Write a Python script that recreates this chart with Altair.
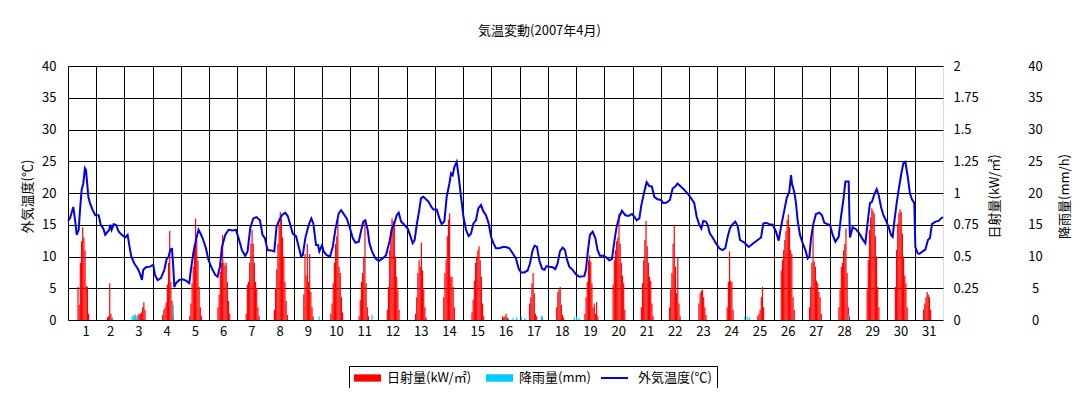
import altair as alt
import pandas as pd

TITLE = "気温変動(2007年4月)"
SERIES = ["日射量(kW/㎡)", "降雨量(mm)", "外気温度(℃)"]
COLORS = ["#FF0000", "#00CCFF", "#0000EE"]
FONT = "Noto Sans CJK JP"

# Air temperature (hour of month, deg C)
temp_hours = [0, 1.7, 4.5, 6.2, 7.4, 9.1, 10.2, 11.6, 13.0, 14.4, 15.3, 16.1, 17.3, 18.7, 21.0, 23.2, 26.1, 27.8, 30.0, 31.7,
              33.7, 35.1, 36.0, 37.1, 38.8, 40.8, 43.1, 45.9, 48.7, 50.7, 52.1, 53.8, 56.4, 59.2, 61.2, 62.9, 64.0, 66.3, 69.7, 72.5,
              73.9, 76.2, 79.0, 81.9, 83.9, 85.6, 87.0, 88.4, 89.5, 90.4, 91.8, 94.6, 97.5, 100.3, 103.1, 104.5, 106.5, 108.8, 111.0, 113.0,
              115.0, 117.3, 119.5, 122.4, 125.2, 127.2, 129.2, 130.9, 133.7, 136.5, 140.0, 142.8, 145.0, 147.9, 150.7, 152.7, 154.9, 157.5, 160.3, 163.2,
              165.4, 167.4, 169.7, 171.7, 175.4, 177.3, 179.6, 181.9, 184.7, 187.0, 188.7, 191.1, 193.9, 196.2, 198.2, 199.6, 201.8, 204.7, 206.9, 208.6,
              210.9, 212.6, 213.7, 216.0, 217.4, 220.0, 222.8, 225.1, 227.3, 230.2, 232.2, 234.1, 237.0, 239.8, 242.1, 244.3, 247.2, 249.4, 251.1, 252.8,
              254.8, 256.3, 258.5, 261.4, 264.2, 267.6, 270.4, 273.3, 275.5, 277.5, 279.5, 281.2, 283.2, 286.0, 288.8, 290.8, 293.1, 294.8, 296.5, 298.2,
              300.2, 302.2, 304.4, 306.7, 309.0, 310.7, 313.5, 315.8, 317.7, 320.0, 322.0, 324.3, 325.7, 327.1, 328.5, 330.5, 332.2, 334.2, 336.2, 338.4,
              340.7, 342.7, 344.7, 346.9, 348.9, 351.2, 353.2, 355.4, 357.7, 359.7, 361.7, 363.9, 366.8, 369.6, 372.4, 375.3, 378.1, 380.9, 383.2, 385.2,
              388.0, 390.8, 392.8, 395.1, 396.8, 398.8, 400.7, 403.0, 405.0, 407.0, 409.2, 412.1, 414.3, 416.3, 418.3, 420.6, 422.6, 424.0, 426.2, 429.1,
              431.9, 434.7, 439.0, 440.4, 441.8, 443.8, 446.1, 448.4, 450.3, 452.3, 455.2, 457.4, 460.3, 462.5, 464.5, 466.5, 468.8, 471.0, 473.9, 476.7,
              479.5, 481.5, 483.5, 485.8, 487.5, 490.0, 492.0, 494.3, 496.5, 498.5, 501.3, 504.2, 506.2, 509.0, 511.8, 514.1, 516.4, 518.3, 521.2, 524.0,
              526.9, 529.7, 532.5, 534.5, 536.8, 538.5, 540.2, 542.4, 543.9, 545.8, 548.1, 550.9, 553.8, 556.6, 558.9, 560.9, 562.8, 564.6, 567.4, 569.4,
              571.4, 575.1, 578.8, 582.2, 586.4, 589.3, 591.2, 593.5, 596.3, 599.2, 602.0, 604.3, 606.3, 609.1, 611.1, 613.3, 614.8, 615.6, 617.6, 619.0,
              620.4, 622.4, 624.7, 627.0, 628.9, 630.4, 631.8, 633.8, 636.0, 638.9, 641.1, 643.1, 645.9, 647.9, 650.2, 652.5, 655.3, 657.3, 659.3, 661.0,
              663.8, 664.4, 664.9, 667.2, 670.0, 672.9, 675.7, 678.0, 680.0, 681.9, 683.6, 685.6, 687.6, 689.3, 691.3, 693.3, 695.5, 697.8, 699.8, 701.2,
              702.6, 704.6, 706.3, 708.3, 710.3, 712.0, 714.0, 715.9, 717.6, 719.6, 720.5, 722.5, 723.9, 726.7, 729.0, 731.2, 732.9, 734.6, 737.5, 740.3,
              742.3, 744]
temp_values = [15.6, 16.0, 17.8, 15.5, 13.4, 14.2, 17.3, 20.5, 21.5, 23.9, 23.6, 22.0, 19.4, 18.4, 17.3, 16.5, 16.5, 15.0, 14.4, 13.4,
               13.9, 14.2, 15.0, 14.2, 15.1, 15.0, 13.9, 13.4, 13.0, 13.4, 11.8, 10.0, 8.9, 8.1, 7.3, 6.3, 7.9, 8.3, 8.4, 8.7,
               7.1, 6.3, 6.6, 7.9, 9.6, 10.0, 11.1, 11.2, 8.4, 5.2, 5.8, 6.3, 6.4, 6.2, 5.8, 7.9, 10.5, 12.6, 14.2, 13.5,
               12.6, 11.3, 9.4, 8.1, 7.1, 6.8, 8.4, 11.5, 13.4, 14.2, 14.1, 14.2, 12.9, 11.0, 10.1, 10.8, 14.4, 16.0, 16.2, 15.7,
               13.4, 12.9, 11.0, 11.0, 10.8, 14.7, 15.7, 16.5, 16.9, 16.3, 15.2, 13.6, 13.2, 11.5, 10.0, 10.2, 12.9, 15.0, 16.0, 15.2,
               11.8, 11.8, 10.8, 11.8, 10.8, 10.2, 10.0, 11.5, 14.2, 16.8, 17.3, 16.8, 16.0, 14.4, 12.9, 12.2, 12.3, 14.2, 15.5, 15.7,
               14.2, 12.1, 10.8, 9.7, 9.3, 9.7, 10.2, 12.3, 14.4, 15.2, 16.5, 16.9, 15.5, 15.0, 14.4, 13.4, 12.1, 12.6, 15.0, 16.8,
               19.2, 19.4, 19.0, 18.6, 17.8, 17.4, 17.4, 16.0, 15.1, 15.5, 19.4, 21.5, 23.1, 22.8, 24.1, 24.9, 22.6, 19.4, 16.3, 14.2,
               13.2, 13.6, 15.2, 15.7, 17.6, 18.1, 17.1, 16.5, 15.2, 13.1, 12.1, 11.3, 11.3, 11.5, 11.5, 11.3, 10.5, 9.7, 8.1, 7.5,
               7.5, 7.8, 8.9, 11.0, 11.7, 11.5, 9.4, 8.1, 7.9, 8.5, 8.4, 8.3, 8.0, 8.9, 10.8, 11.4, 11.0, 9.7, 8.4, 7.9,
               7.2, 6.8, 6.9, 7.9, 10.5, 13.4, 13.9, 12.9, 11.0, 10.1, 10.1, 9.9, 9.4, 9.6, 12.3, 14.7, 16.3, 17.2, 16.5, 16.4,
               16.7, 16.3, 15.7, 16.0, 18.1, 20.2, 21.7, 21.1, 21.0, 19.4, 19.0, 18.9, 18.4, 18.5, 18.9, 20.7, 21.0, 21.5, 21.0, 20.5,
               19.9, 19.2, 18.4, 16.3, 15.0, 14.4, 15.6, 15.5, 15.0, 13.6, 13.0, 12.1, 11.3, 11.0, 11.3, 13.1, 14.4, 15.0, 15.5, 14.8,
               12.6, 12.2, 11.5, 12.0, 12.6, 13.0, 15.2, 15.3, 15.1, 15.0, 13.9, 12.5, 14.7, 17.3, 19.2, 20.2, 22.8, 21.5, 20.1, 18.4,
               15.7, 13.4, 12.1, 11.0, 9.7, 10.0, 12.9, 15.2, 16.7, 16.9, 16.5, 15.3, 15.1, 15.0, 13.4, 12.3, 13.1, 16.3, 18.9, 21.8,
               21.8, 16.5, 13.0, 14.6, 14.3, 13.6, 12.7, 12.1, 15.5, 18.4, 18.6, 19.8, 20.6, 19.7, 17.8, 16.5, 15.7, 14.6, 13.4, 13.1,
               15.5, 18.4, 20.5, 22.8, 24.7, 24.9, 22.6, 19.9, 19.0, 18.4, 11.5, 10.5, 10.4, 10.8, 11.1, 12.6, 12.9, 15.1, 15.5, 15.6,
               16.0, 16.2]

# Solar radiation (kW/m2), hourly values for hours 6..18 of each day
solar_first_hour = 6
solar_by_day = [
    [0, 0, 0.26, 0.12, 0.45, 0.62, 0.73, 0.65, 0.55, 0.27, 0.26, 0.05, 0],
    [0, 0, 0, 0.02, 0.03, 0.29, 0.05, 0.02, 0, 0, 0, 0, 0],
    [0, 0, 0, 0, 0, 0.04, 0.05, 0.05, 0.06, 0.1, 0.14, 0.08, 0],
    [0, 0, 0.04, 0.08, 0.1, 0.14, 0.28, 0.45, 0.7, 0.3, 0.15, 0.04, 0],
    [0, 0.03, 0.13, 0.29, 0.42, 0.6, 0.8, 0.63, 0.47, 0.26, 0.1, 0.03, 0],
    [0, 0.1, 0.2, 0.38, 0.45, 0.67, 0.45, 0.43, 0.45, 0.3, 0.15, 0.05, 0],
    [0, 0.05, 0.28, 0.3, 0.45, 0.6, 0.71, 0.6, 0.45, 0.3, 0.25, 0.1, 0.03],
    [0, 0.08, 0.25, 0.4, 0.6, 0.75, 0.85, 0.8, 0.65, 0.5, 0.3, 0.15, 0.04],
    [0, 0, 0.2, 0.52, 0.35, 0.6, 0.3, 0.52, 0.22, 0.1, 0.03, 0, 0],
    [0, 0.05, 0.13, 0.29, 0.45, 0.6, 0.66, 0.79, 0.42, 0.37, 0.18, 0.06, 0],
    [0, 0.03, 0.16, 0.3, 0.37, 0.49, 0.79, 0.29, 0.1, 0.03, 0, 0, 0],
    [0, 0.08, 0.26, 0.55, 0.71, 0.8, 0.78, 0.77, 0.5, 0.34, 0.24, 0.08, 0],
    [0, 0.05, 0.18, 0.37, 0.47, 0.42, 0.61, 0.39, 0.24, 0.1, 0.02, 0, 0],
    [0, 0.18, 0.37, 0.47, 0.66, 0.79, 0.84, 0.34, 0.34, 0.26, 0.1, 0, 0],
    [0, 0.06, 0.16, 0.31, 0.45, 0.5, 0.55, 0.58, 0.47, 0.34, 0.13, 0.03, 0],
    [0, 0, 0, 0.03, 0.02, 0.03, 0.05, 0.02, 0, 0, 0, 0, 0],
    [0, 0, 0.13, 0.18, 0.29, 0.37, 0.21, 0.05, 0.03, 0, 0, 0, 0],
    [0, 0.1, 0.22, 0.24, 0.26, 0.12, 0.04, 0.02, 0, 0, 0, 0, 0],
    [0, 0.05, 0.18, 0.3, 0.47, 0.51, 0.46, 0.29, 0.1, 0.13, 0.05, 0.14, 0.03],
    [0, 0.28, 0.47, 0.55, 0.62, 0.65, 0.84, 0.6, 0.45, 0.35, 0.29, 0.08, 0],
    [0, 0.1, 0.29, 0.47, 0.63, 0.78, 0.58, 0.45, 0.34, 0.31, 0.13, 0.03, 0],
    [0, 0.1, 0.24, 0.37, 0.6, 0.75, 0.42, 0.21, 0.49, 0.13, 0.03, 0, 0],
    [0, 0, 0.13, 0.21, 0.23, 0.24, 0.18, 0.1, 0.04, 0, 0, 0, 0],
    [0, 0, 0.1, 0.3, 0.54, 0.31, 0.3, 0.08, 0, 0, 0, 0, 0],
    [0, 0, 0, 0, 0.03, 0.05, 0.08, 0.18, 0.26, 0.1, 0, 0, 0],
    [0.39, 0.47, 0.55, 0.63, 0.7, 0.79, 0.83, 0.73, 0.55, 0.52, 0.18, 0.08, 0],
    [0.1, 0.26, 0.45, 0.72, 0.46, 0.42, 0.31, 0.29, 0.22, 0.18, 0.05, 0, 0],
    [0, 0.1, 0.24, 0.42, 0.45, 0.55, 0.6, 0.72, 0.37, 0.1, 0.03, 0, 0],
    [0, 0.24, 0.47, 0.71, 0.81, 0.88, 0.86, 0.84, 0.66, 0.5, 0.26, 0.1, 0],
    [0, 0.26, 0.55, 0.76, 0.84, 0.87, 0.85, 0.68, 0.5, 0.35, 0.29, 0.1, 0],
    [0, 0.08, 0.13, 0.18, 0.22, 0.2, 0.18, 0.08, 0, 0, 0, 0, 0],
]

# Rainfall (mm/h)
rain_hours = [54, 55, 56, 57, 58, 89, 213, 258, 374, 378, 381, 385, 388, 402, 403, 430, 432, 434, 575, 577, 579, 663]
rain_values = [0.5, 0.8, 0.6, 0.9, 0.5, 2.4, 0.6, 0.8, 0.3, 0.3, 0.4, 0.5, 0.3, 0.7, 0.5, 0.4, 0.5, 0.4, 0.5, 0.6, 0.4, 0.7]

day_labels = list(range(1, 32))
temp_ticks = [0, 5, 10, 15, 20, 25, 30, 35, 40]
solar_ticks = [0, 0.25, 0.5, 0.75, 1, 1.25, 1.5, 1.75, 2]
rain_ticks = [0, 5, 10, 15, 20, 25, 30, 35, 40]

# ---- tables ----
temp_df = pd.DataFrame({"hour": temp_hours, "val": temp_values, "series": SERIES[2]})
s_rows = []
for d, vals in enumerate(solar_by_day):
    for k, v in enumerate(vals):
        if v > 0:
            h0 = d * 24 + solar_first_hour + k
            s_rows.append({"h0": h0, "h1": h0 + 1, "val": v, "series": SERIES[0]})
solar_df = pd.DataFrame(s_rows)
rain_df = pd.DataFrame({"h0": rain_hours, "h1": [h + 1 for h in rain_hours], "val": rain_values, "series": SERIES[1]})

W, H = 875, 254
xscale = alt.Scale(domain=[0, 744], nice=False, zero=False)
xaxis = alt.Axis(values=[(d - 1) * 24 for d in day_labels], labelExpr="datum.value / 24 + 1",
                 labelOffset=14, grid=True, gridColor="black", gridWidth=1, gridOpacity=1,
                 ticks=False, domain=False, title=None, labelPadding=5,
                 labelFont=FONT, labelFontSize=13, labelColor="black")

LEG_X, LEG_Y = 281, 300
fill_legend = alt.Legend(
    title=None, orient="none", legendX=LEG_X, legendY=LEG_Y, direction="horizontal",
    labelFont=FONT, labelFontSize=13, labelColor="black", strokeColor="black",
    fillColor="white", padding=5, columnPadding=14, labelOffset=6, symbolSize=729,
    symbolType="M-1,-0.27H1V0.27H-1Z", symbolStrokeWidth=0, symbolOpacity=1, clipHeight=14,
)
fill = alt.Fill("series:N", scale=alt.Scale(domain=SERIES, range=[COLORS[0], COLORS[1], "#FFFFFF"]),
                legend=fill_legend)
stroke_legend = alt.Legend(
    title=None, orient="none", legendX=LEG_X + 246, legendY=LEG_Y, direction="horizontal",
    labelExpr="''", padding=5, labelOffset=6, symbolSize=729, symbolType="stroke",
    symbolStrokeWidth=2, symbolOpacity=1, clipHeight=14,
)
stroke = alt.Stroke("series:N", scale=alt.Scale(domain=[SERIES[2]], range=[COLORS[2]]), legend=stroke_legend)

label_style = dict(labelFont=FONT, labelFontSize=13, labelColor="black",
                   titleFont=FONT, titleFontSize=13, titleFontWeight="normal", titleColor="black",
                   titleAngle=270, titleAlign="center", titleBaseline="middle", titleY=H / 2 + 3)

solar = alt.Chart(solar_df).mark_rect(strokeWidth=0, opacity=1).encode(
    x=alt.X("h0:Q", scale=xscale, axis=xaxis),
    x2="h1:Q",
    y=alt.Y("val:Q", scale=alt.Scale(domain=[0, 2], nice=False),
            axis=alt.Axis(orient="right", values=solar_ticks, labelExpr="'' + datum.value", grid=False,
                          ticks=False, domain=False, labelPadding=10, title="日射量(kW/㎡)",
                          titleX=51, **label_style)),
    y2=alt.datum(0),
    fill=fill,
)

rain = alt.Chart(rain_df).mark_rect(strokeWidth=0, opacity=1).encode(
    x=alt.X("h0:Q", scale=xscale, axis=xaxis),
    x2="h1:Q",
    y=alt.Y("val:Q", scale=alt.Scale(domain=[0, 40], nice=False),
            axis=alt.Axis(orient="right", offset=80, values=rain_ticks, grid=False, ticks=False,
                          domain=False, labelPadding=12, labelAlign="center", title="降雨量(mm/h)",
                          titleX=41, **label_style)),
    y2=alt.datum(0),
    fill=fill,
)

temp = alt.Chart(temp_df).mark_line(strokeWidth=2).encode(
    x=alt.X("hour:Q", scale=xscale, axis=xaxis),
    y=alt.Y("val:Q", scale=alt.Scale(domain=[0, 40], nice=False),
            axis=alt.Axis(orient="left", values=temp_ticks, grid=True, gridColor="black", gridWidth=1,
                          gridOpacity=1, ticks=False, domain=False, labelPadding=12,
                          title="外気温度(℃)", titleX=-41, **label_style)),
    stroke=stroke,
)

chart = alt.layer(solar, rain, temp).resolve_scale(y="independent").properties(
    width=W, height=H,
    autosize=alt.AutoSizeParams(type="none"),
    padding={"left": 60, "top": 58, "right": 131, "bottom": 68},
    title=alt.TitleParams(TITLE, font=FONT, fontSize=13, fontWeight="normal", color="black",
                          anchor="middle", frame="group", offset=22, dx=34),
).configure_view(stroke="black", strokeWidth=2).configure(background="white")

chart.save("out.html", embed_options={"renderer": "svg", "actions": False})
